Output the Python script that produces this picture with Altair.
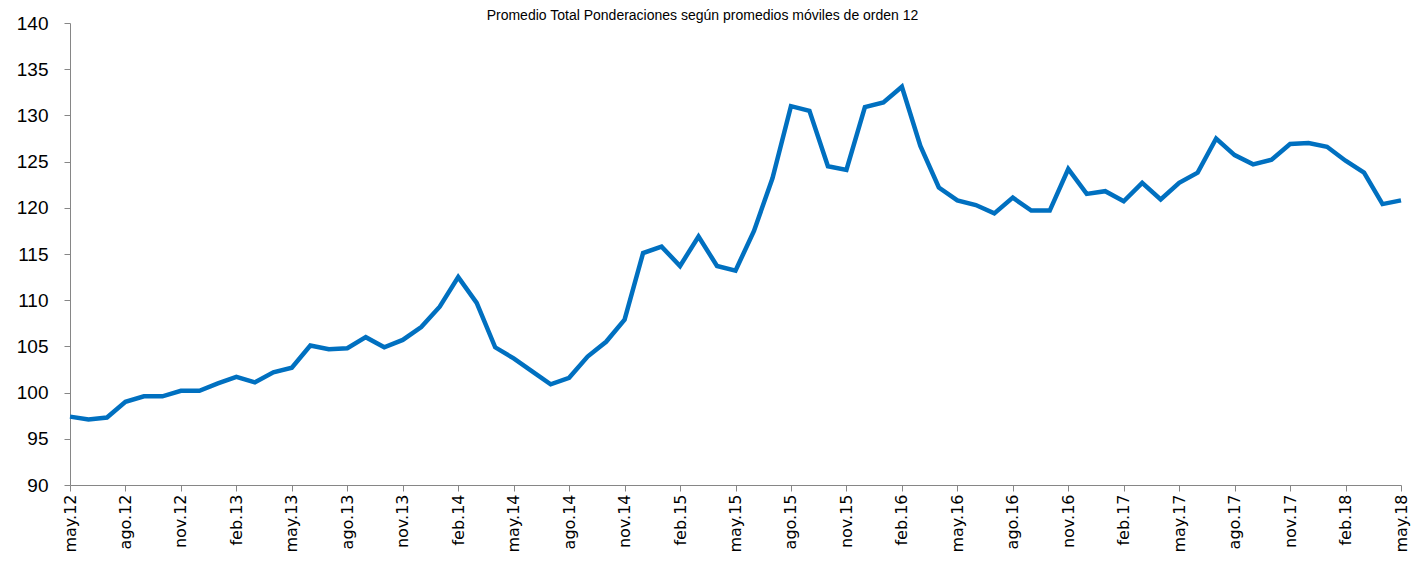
import altair as alt
import pandas as pd

month_abbr = ["ene", "feb", "mar", "abr", "may", "jun", "jul", "ago", "sep", "oct", "nov", "dic"]

# may.12 .. may.18 (73 monthly points)
values = [
    97.4, 97.1, 97.3, 99.0, 99.6, 99.6, 100.2, 100.2, 101.0, 101.7, 101.1, 102.2,   # may.12 - abr.13
    102.7, 105.1, 104.7, 104.8, 106.0, 104.9, 105.7, 107.1, 109.3, 112.5, 109.7, 104.9,  # may.13 - abr.14
    103.7, 102.3, 100.9, 101.6, 103.9, 105.5, 107.9, 115.1, 115.8, 113.7, 116.9, 113.7,  # may.14 - abr.15
    113.2, 117.5, 123.2, 131.0, 130.5, 124.5, 124.1, 130.9, 131.4, 133.1, 126.7, 122.2,  # may.15 - abr.16
    120.8, 120.3, 119.4, 121.1, 119.7, 119.7, 124.2, 121.5, 121.8, 120.7, 122.7, 120.9,  # may.16 - abr.17
    122.7, 123.8, 127.5, 125.7, 124.7, 125.2, 126.9, 127.0, 126.6, 125.1, 123.8, 120.4,  # may.17 - abr.18
    120.8,                                                                               # may.18
]

labels = []
m, y = 4, 12
for _ in values:
    labels.append(f"{month_abbr[m]}.{y:02d}")
    m += 1
    if m == 12:
        m, y = 0, y + 1

tick_labels = labels[::3]
y_ticks = list(range(90, 141, 5))

df = pd.DataFrame({"mes": labels, "valor": values})

axis_color = "#868686"

chart = alt.Chart(df).mark_line(color="#0070C0", strokeWidth=4.5, strokeJoin="miter").encode(
    x=alt.X(
        "mes:O",
        sort=None,
        scale=alt.Scale(type="point", padding=0),
        axis=alt.Axis(
            title=None,
            values=tick_labels,
            labelAngle=-90,
            labelAlign="right",
            labelBaseline="middle",
            labelFont="DejaVu Sans",
            labelFontSize=16,
            labelColor="#000000",
            labelPadding=3,
            domainColor=axis_color,
            tickColor=axis_color,
            tickSize=6,
            grid=False,
        ),
    ),
    y=alt.Y(
        "valor:Q",
        scale=alt.Scale(domain=[90, 140], nice=False, zero=False),
        axis=alt.Axis(
            title=None,
            values=y_ticks,
            labelFont="Liberation Sans",
            labelFontSize=19,
            labelColor="#000000",
            labelPadding=16,
            domainColor=axis_color,
            tickColor=axis_color,
            tickSize=6,
            grid=False,
        ),
    ),
).properties(
    width=1331,
    height=462,
    title=alt.TitleParams(
        "Promedio Total Ponderaciones según promedios móviles de orden 12",
        font="Liberation Sans",
        fontSize=14,
        fontWeight="normal",
        color="#000000",
        anchor="middle",
        frame="group",
        offset=1,
        dx=-33,
        dy=10,
    ),
    autosize=alt.AutoSizeParams(type="none"),
    padding={"left": 62, "top": 15, "right": 12, "bottom": 74},
).configure_view(stroke=None)

chart.save("out.html", embed_options={"renderer": "svg", "actions": False})
